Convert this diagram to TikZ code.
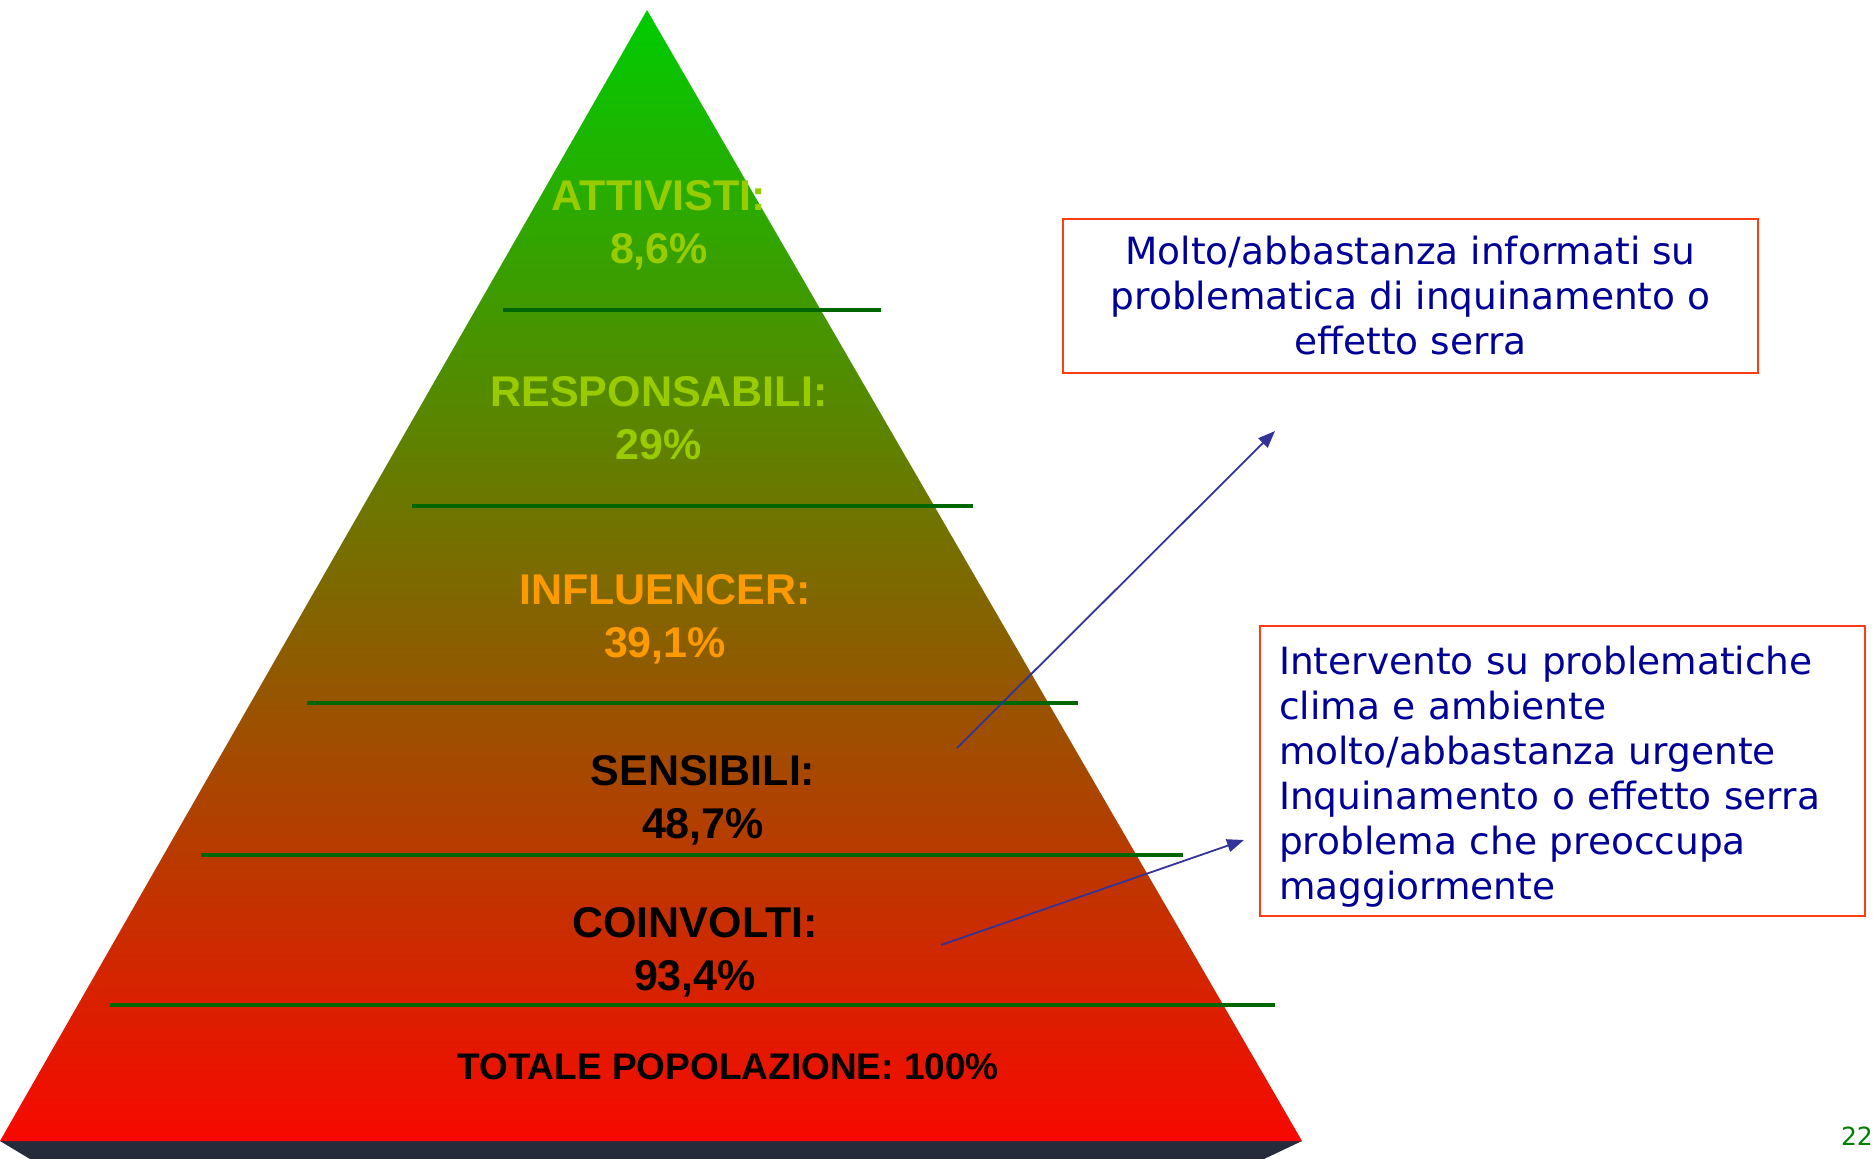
\documentclass[tikz,border=0pt]{standalone}
\usepackage{fontspec}
\setmainfont{Liberation Sans}
\newfontfamily\boxfont{DejaVu Sans}
\usetikzlibrary{arrows.meta, positioning}

\definecolor{pyrgreen}{RGB}{0,204,0}
\definecolor{pyrred}{RGB}{248,8,0}
\definecolor{pyrbase}{RGB}{37,43,58}
\definecolor{sepgreen}{RGB}{0,102,0}
\definecolor{limegreen}{RGB}{153,204,0}
\definecolor{lvlorange}{RGB}{255,153,0}
\definecolor{boxred}{RGB}{255,60,20}
\definecolor{boxblue}{RGB}{0,0,153}
\definecolor{arrblue}{RGB}{51,51,153}
\definecolor{pagegreen}{RGB}{0,128,0}

\begin{document}
\begin{tikzpicture}[x=1pt, y=-1pt]
        \tikzset{level/.style={font=\bfseries\fontsize{43}{53}\selectfont, align=center, inner sep=0pt}}
        % Define attributes for boxes, separators and arrows
        \tikzstyle{infobox}=[draw=boxred, line width=2pt, text=boxblue, font=\boxfont\fontsize{37.5}{45}\selectfont]
        \tikzstyle{sepline}=[draw=sepgreen, line width=3.5pt]
        \tikzstyle{pointer}=[draw=arrblue, line width=1.8pt, -{Triangle[length=17pt,width=13pt]}]

        \useasboundingbox (0,0) rectangle (1874,1159);

        \coordinate (top) at (647,10);
        \coordinate (bot_l) at (0,1141);
        \coordinate (bot_r) at (1302,1141);
        \fill[pyrbase] (bot_l) -- (bot_r) -- (1264,1159) -- (30,1159) -- cycle;
        \shade[top color=pyrgreen, bottom color=pyrred] (top) -- (bot_l) -- (bot_r) -- cycle;

        \foreach \y/\xa/\xb in {310/503/881, 506/412/973, 703/307/1078, 855/201/1183, 1005/110/1275}
            \draw[sepline] (\xa,\y) -- (\xb,\y);

        \node[level, text=limegreen] (lev_1) at (659,225) {ATTIVISTI:\\8,6\%};
        \node[level, text=limegreen] (lev_2) at (659,418) {RESPONSABILI:\\29\%};
        \node[level, text=lvlorange] (lev_3) at (665,619) {INFLUENCER:\\39,1\%};
        \node[level] (lev_4) at (703,800) {SENSIBILI:\\48,7\%};
        \node[level] (lev_5) at (695,952) {COINVOLTI:\\93,4\%};
        \node[level, font=\bfseries\fontsize{37}{45}\selectfont] (lev_6) at (728,1067) {TOTALE POPOLAZIONE: 100\%};

        \node[infobox, align=center, minimum width=695pt, minimum height=154pt] (box_1) at (1410.5,296)
            {Molto/abbastanza informati su\\problematica di inquinamento o\\effetto serra};
        \node[infobox, align=left, text width=567pt, inner xsep=19pt, minimum height=290pt] (box_2) at (1562.5,771)
            {\rule{0pt}{40pt}Intervento su problematiche\\clima e ambiente\\molto/abbastanza urgente\\Inquinamento o effetto serra\\problema che preoccupa\\maggiormente};

        \coordinate (from_1) at (957,748);
        \coordinate (to_1) at (1275,431);
        \coordinate (from_2) at (941,945);
        \coordinate (to_2) at (1244,840);
        \draw[pointer] (from_1) -- (to_1);
        \draw[pointer] (from_2) -- (to_2);

        \node[anchor=base east, inner sep=0pt, text=pagegreen, font=\boxfont\fontsize{25}{30}\selectfont] (page_no) at (1873,1145) {22};
    \end{tikzpicture}
\end{document}
